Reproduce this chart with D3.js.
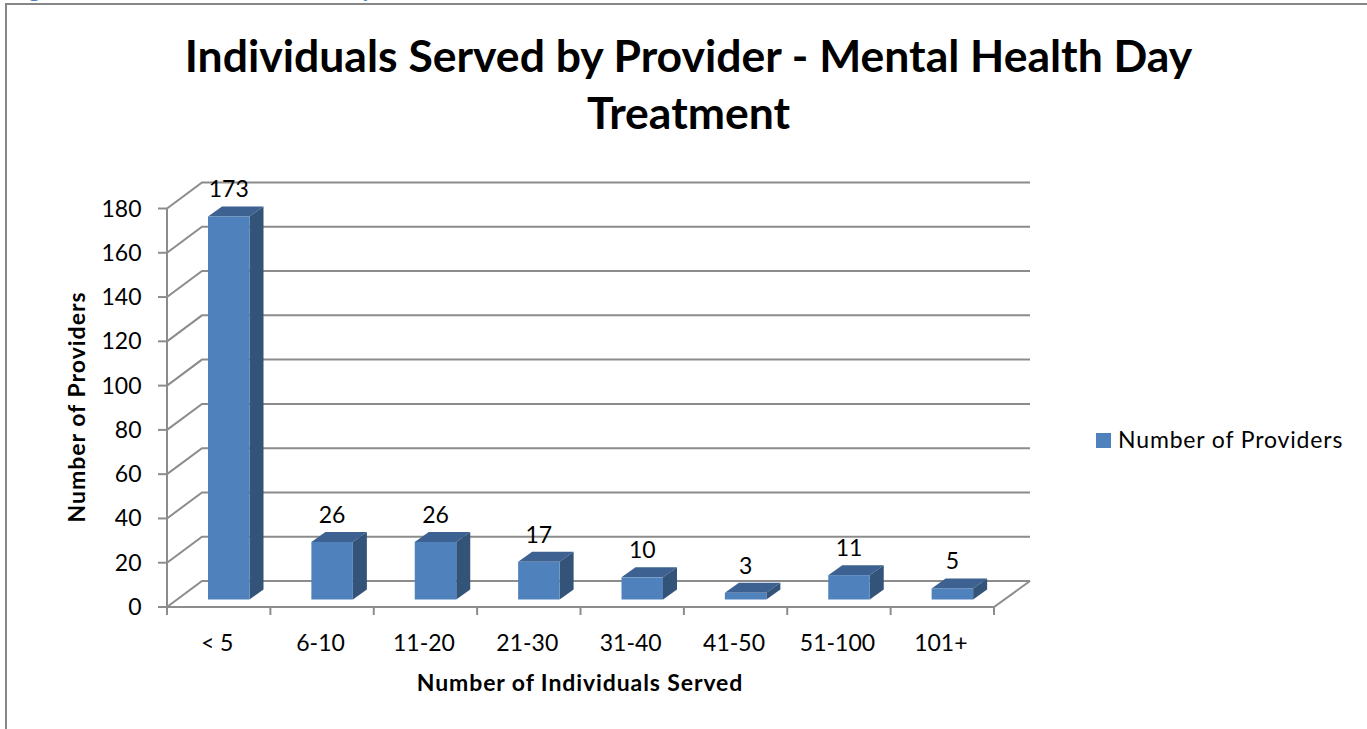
<!DOCTYPE html>
<html><head><meta charset="utf-8">
<script src="https://cdn.jsdelivr.net/npm/d3@7"></script>
<style>html,body{margin:0;padding:0;background:#fff;overflow:hidden}svg{display:block}text{font-family:Lato,"Open Sans",sans-serif;fill:#000}</style>
</head><body>
<script>
const categories = ["< 5","6-10","11-20","21-30","31-40","41-50","51-100","101+"];
const values = [173,26,26,17,10,3,11,5];
const yTicks = [0,20,40,60,80,100,120,140,160,180];
const titleLines = ["Individuals Served by Provider - Mental Health Day","Treatment"];
const seriesName = "Number of Providers";
const xTitle = "Number of Individuals Served";
const yTitle = "Number of Providers";

const svg = d3.select("body").append("svg").attr("width",1367).attr("height",729);
// clipped heading above the chart: only the descenders of two letters show, as in the reference
[["g",28],["y",361]].forEach(([t,px])=>svg.append("text").attr("x",px).attr("y",-3).attr("font-size",24).attr("font-weight",700).style("fill","#4f81bd").text(t));
svg.append("path").attr("d","M6,729V4H1367").attr("fill","#fff").attr("stroke","#868686").attr("stroke-width",2);

const x = d3.scaleBand().domain(categories).range([167,994]).paddingInner(0).paddingOuter(0);
const y = d3.scaleLinear().domain([0,180]).range([607,208.5]);
const depth = {dx:35, dy:-26};
const barDepth = {dx:14, dy:-10};
const grid = "#8c8c8c";

yTicks.forEach(t=>{
  svg.append("path").attr("d",`M${x.range()[0]},${y(t)}l${depth.dx},${depth.dy}H1030`)
    .attr("fill","none").attr("stroke",grid).attr("stroke-width",2);
  svg.append("line").attr("x1",158).attr("x2",167).attr("y1",y(t)).attr("y2",y(t)).attr("stroke",grid).attr("stroke-width",2);
});
svg.append("line").attr("x1",167).attr("x2",167).attr("y1",y(180)).attr("y2",y(0)+8).attr("stroke",grid).attr("stroke-width",2);
svg.append("path").attr("d",`M167,${y(0)}H994l36,-26`).attr("fill","none").attr("stroke",grid).attr("stroke-width",2);
[...categories.map(c=>x(c)),994].forEach(v=>{
  svg.append("line").attr("x1",v).attr("x2",v).attr("y1",y(0)).attr("y2",y(0)+8).attr("stroke",grid).attr("stroke-width",2);
});
svg.selectAll(".yt").data(yTicks).join("text").attr("class","yt")
  .attr("x",141.5).attr("y",d=>y(d)+8).attr("text-anchor","end").attr("font-size",23).text(d=>d);

const base = y(0)-7.5;
const yBar = v => base-(y(0)-y(v));
const barW = 41.5, barOff = 41;
const g = svg.selectAll(".bar").data(categories).join("g").attr("class","bar");
g.each(function(c,i){
  const s=d3.select(this), L=x(c)+barOff, R=L+barW, T=yBar(values[i]);
  s.append("path").attr("d",`M${L},${T}l${barDepth.dx},${barDepth.dy}H${R+barDepth.dx}L${R},${T}Z`).attr("fill","#3d6291");
  s.append("path").attr("d",`M${R},${T}l${barDepth.dx},${barDepth.dy}V${base+barDepth.dy}L${R},${base}Z`).attr("fill","#335379");
  s.append("rect").attr("x",L).attr("y",T).attr("width",barW).attr("height",base-T).attr("fill","#4f81bd");
  s.append("text").attr("x",L+barW/2).attr("y",T-19).attr("text-anchor","middle").attr("font-size",23).text(values[i]);
  s.append("text").attr("x",x(c)+x.bandwidth()/2-1.5).attr("y",650.5).attr("text-anchor","middle").attr("font-size",23).text(c);
});

titleLines.forEach((t,i)=>svg.append("text").attr("x",688.5).attr("y",[72,129][i]).attr("text-anchor","middle")
  .attr("font-size",44.5).attr("font-weight",700).text(t));
svg.append("text").attr("x",580).attr("y",691).attr("text-anchor","middle").attr("font-size",23).attr("letter-spacing",0.9).attr("font-weight",700).text(xTitle);
svg.append("text").attr("transform","translate(85,407) rotate(-90)").attr("text-anchor","middle").attr("font-size",23).attr("letter-spacing",1).attr("font-weight",700).text(yTitle);

svg.append("rect").attr("x",1096).attr("y",433).attr("width",15).attr("height",15).attr("fill","#4f81bd");
svg.append("text").attr("x",1118).attr("y",448).attr("font-size",23).attr("letter-spacing",0.85).text(seriesName);
</script>
</body></html>
